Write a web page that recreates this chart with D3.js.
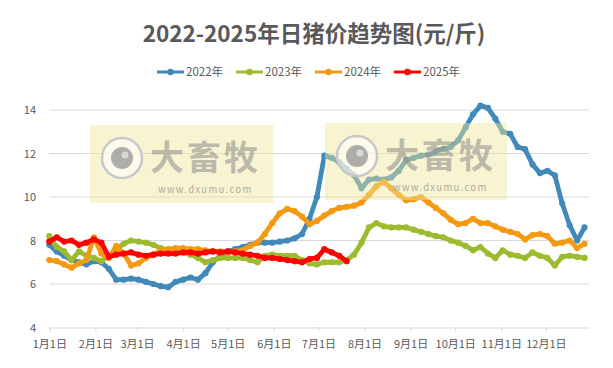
<!DOCTYPE html>
<html><head><meta charset="utf-8">
<script src="https://cdn.jsdelivr.net/npm/d3@7"></script>
<style>body{margin:0;background:#fff;} text{font-family:"Noto Sans CJK SC","Microsoft YaHei",sans-serif;}</style>
</head><body><svg id="c" width="613" height="368"></svg>
<script>
// day-of-year of each sample
const days = [0,5,10,15,20,25,30,35,40,45,50,55,60,65,70,75,80,85,90,95,100,105,110,115,120,125,130,135,140,145,150,155,160,165,170,175,180,185,190,195,200,205,210,215,220,225,230,235,240,245,250,255,260,265,270,275,280,285,290,295,300,305,310,315,320,325,330,335,340,345,350,355,360];
const v2022 = [7.8,7.5,7.3,7.1,7.0,6.9,7.05,7.0,6.7,6.2,6.2,6.25,6.2,6.1,6.0,5.9,5.85,6.1,6.2,6.3,6.2,6.5,7.0,7.3,7.5,7.6,7.7,7.8,7.9,7.9,7.9,7.95,8.0,8.1,8.3,9.0,10.0,11.9,11.8,11.6,11.3,11.0,10.4,10.8,10.85,10.8,10.9,11.2,11.7,11.8,11.9,11.95,12.1,12.2,12.3,12.6,13.2,13.8,14.2,14.1,13.6,13.0,12.9,12.3,12.2,11.5,11.1,11.2,11.0,9.7,8.7,8.0,8.6];
const v2023 = [8.2,7.7,7.5,7.1,7.5,7.3,7.2,7.05,7.3,7.6,7.85,8.0,7.95,7.9,7.8,7.65,7.55,7.5,7.45,7.35,7.2,7.0,7.1,7.2,7.2,7.2,7.2,7.1,7.0,7.3,7.35,7.3,7.3,7.3,7.1,6.95,6.9,7.0,7.0,7.0,7.1,7.35,7.9,8.6,8.8,8.65,8.6,8.6,8.6,8.5,8.4,8.3,8.2,8.15,8.0,7.9,7.75,7.55,7.7,7.4,7.2,7.55,7.35,7.3,7.2,7.45,7.3,7.2,6.85,7.25,7.3,7.25,7.2];
const v2024 = [7.1,7.05,6.9,6.75,6.95,7.1,8.15,7.4,7.2,7.75,7.4,6.85,6.95,7.2,7.35,7.55,7.6,7.65,7.65,7.6,7.6,7.55,7.5,7.5,7.45,7.5,7.55,7.75,7.9,8.3,8.8,9.25,9.45,9.35,9.1,8.75,8.9,9.15,9.35,9.5,9.55,9.6,9.75,10.1,10.5,10.7,10.4,10.1,9.85,9.9,10.0,9.75,9.5,9.25,8.95,8.75,8.8,9.0,8.8,8.8,8.65,8.5,8.4,8.3,8.05,8.25,8.3,8.2,7.85,7.9,8.0,7.65,7.85];
const v2025 = [7.95,8.15,7.95,8.0,7.8,7.9,8.05,7.9,7.25,7.35,7.4,7.45,7.35,7.3,7.35,7.4,7.4,7.4,7.45,7.45,7.4,7.45,7.5,7.45,7.5,7.45,7.4,7.35,7.3,7.2,7.2,7.15,7.1,7.05,7.0,7.15,7.2,7.6,7.45,7.3,7.05];
const seriesNames = ["2022年","2023年","2024年","2025年"];
const seriesValues = [v2022, v2023, v2024, v2025];
const colors = ["#4189b9","#9dbb2e","#f39a12","#ff0000"];
const monthDays = [0,31,59,90,120,151,181,212,243,273,304,334];
const monthLabels = ["1月1日","2月1日","3月1日","4月1日","5月1日","6月1日","7月1日","8月1日","9月1日","10月1日","11月1日","12月1日"];
const yTicks = [4,6,8,10,12,14];
const title = "2022-2025年日猪价趋势图(元/斤)";

const svg = d3.select("#c");
const x = d3.scaleLinear().domain([0,363]).range([49.3,589]);
const y = d3.scaleLinear().domain([4,14]).range([327.5,110]);
const txt = "#595959";

svg.append("text").attr("x",314).attr("y",42).attr("text-anchor","middle")
  .attr("font-size",22.5).attr("font-weight","bold").attr("fill",txt).text(title);

// gridlines
svg.append("g").selectAll("line").data(yTicks.filter(d=>d>4)).join("line")
  .attr("x1",x(0)).attr("x2",x(363)).attr("y1",d=>y(d)).attr("y2",d=>y(d))
  .attr("stroke","#d9d9d9").attr("stroke-width",1);
// y labels
svg.append("g").selectAll("text").data(yTicks).join("text")
  .attr("x",36).attr("y",d=>y(d)+4).attr("text-anchor","end")
  .attr("font-size",11).attr("fill",txt).text(d=>d);

// x axis
const xa = svg.append("g").attr("transform",`translate(0,${y(4)})`)
  .call(d3.axisBottom(x).tickValues(monthDays).tickFormat((d,i)=>monthLabels[i]).tickSize(4).tickSizeOuter(0));
xa.select(".domain").attr("stroke","#d9d9d9");
xa.selectAll(".tick line").attr("stroke","#d9d9d9");
xa.selectAll(".tick text").attr("fill",txt).attr("font-size",11).attr("dy","1.25em")
  .attr("font-family",'"Noto Sans CJK SC",sans-serif');

// series
const line = d3.line().x(d=>x(d[0])).y(d=>y(d[1]));
seriesValues.forEach((vals,i)=>{
  const pts = vals.map((v,j)=>[days[j],v]);
  const g = svg.append("g");
  g.append("path").datum(pts).attr("d",line).attr("fill","none")
    .attr("stroke",colors[i]).attr("stroke-width",4.8).attr("stroke-linejoin","round").attr("stroke-linecap","round");
  g.selectAll("circle").data(pts).join("circle")
    .attr("cx",d=>x(d[0])).attr("cy",d=>y(d[1])).attr("r",3.1).attr("fill",colors[i]);
});

// legend
const lx = [157,236,315,394];
seriesNames.forEach((n,i)=>{
  const g = svg.append("g").attr("transform",`translate(${lx[i]},72)`);
  g.append("line").attr("x1",0).attr("x2",27).attr("stroke",colors[i]).attr("stroke-width",3);
  g.append("circle").attr("cx",13.5).attr("r",3.2).attr("fill",colors[i]);
  g.append("text").attr("x",29).attr("y",4).attr("font-size",11.5).attr("fill",txt).text(n);
});

// watermarks
const wms = [{x:90,y:125,w:183,h:78},{x:325,y:123,w:182,h:77}];
wms.forEach(w=>{
  const g = svg.append("g");
  g.append("rect").attr("x",w.x).attr("y",w.y).attr("width",w.w).attr("height",w.h)
    .attr("fill","#efe49a").attr("opacity",0.45);
  const cx = w.x+32, cy = w.y+33;
  g.append("circle").attr("cx",cx).attr("cy",cy).attr("r",20).attr("fill","#ffffff").attr("fill-opacity",0.55)
    .attr("stroke","#c8c8c8").attr("stroke-width",2.5);
  g.append("circle").attr("cx",cx).attr("cy",cy).attr("r",11).attr("fill","#9a9a9a").attr("opacity",0.8);
  g.append("circle").attr("cx",cx+3).attr("cy",cy-3).attr("r",3.5).attr("fill","#d8d8d8");
  g.append("text").attr("x",w.x+60).attr("y",w.y+45).attr("font-size",34).attr("font-weight","bold")
    .attr("fill","#8c8c8c").attr("opacity",0.55).attr("letter-spacing",3).text("大畜牧");
  g.append("text").attr("x",w.x+68).attr("y",w.y+68).attr("font-size",9.5).attr("letter-spacing",1.3)
    .attr("fill","#8c8c8c").attr("opacity",0.7).attr("font-family","DejaVu Sans, sans-serif").text("www.dxumu.com");
});
</script></body></html>
